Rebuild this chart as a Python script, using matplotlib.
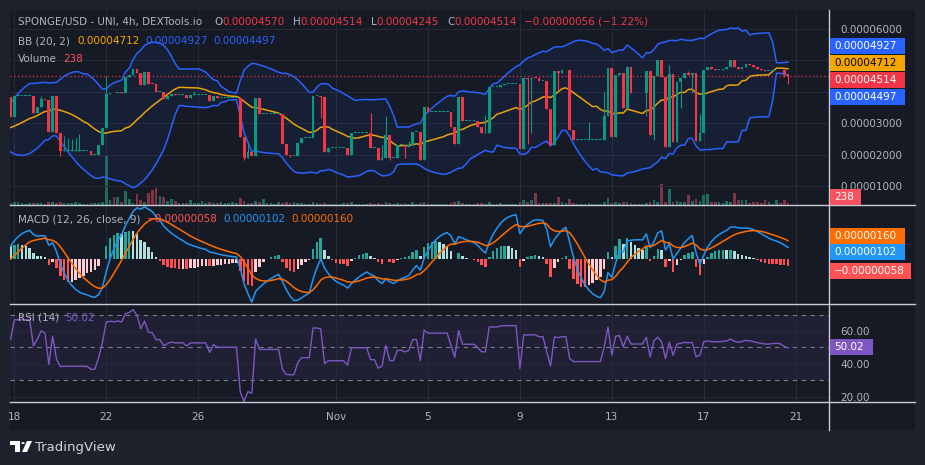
import numpy as np
import pandas as pd
import matplotlib
matplotlib.use("Agg")
import matplotlib.pyplot as plt
from matplotlib.patches import Rectangle, Polygon, Circle
from matplotlib.lines import Line2D

# ---------------- data (prices in units of 1e-5 USD) ----------------
UNIT = 1e-5
start_time = "2023-10-17 20:00"

warmup_close = [3.3, 3.3, 3.3, 3.2, 3.2, 3.3, 3.3, 3.2, 3.2, 3.2,
                3.1, 3.1, 3.2, 3.2, 3.2, 3.2, 3.2, 3.1, 3.1, 3.1,
                3.0, 2.9, 2.8, 2.7, 2.6, 2.6, 2.5, 2.5, 2.4, 2.5,
                2.6, 2.6, 2.7, 2.8, 2.9, 3.0, 3.2, 3.4, 3.6, 3.84]

close = [
    3.21, 3.87, 3.87, 3.87, 3.87, 3.87, 3.34, 3.53, 3.79, 3.74,
    2.74, 3.87, 2.68, 2.13, 2.14, 2.14, 2.14, 2.14, 2.14, 2.14,
    2.14, 2.00, 2.00, 2.32, 2.84, 3.92, 3.97, 3.95, 4.00, 3.97,
    4.47, 4.55, 4.74, 4.60, 4.21, 4.63, 4.26, 4.24, 4.00, 4.00,
    3.79, 3.87, 3.92, 3.90, 3.90, 3.90, 3.82, 3.90, 3.90, 3.90,
    3.90, 3.90, 3.72, 3.87, 3.82, 3.82, 3.82, 3.82, 3.82, 3.82,
    2.58, 1.90, 2.10, 1.98, 3.82, 3.30, 3.30, 3.30, 3.30, 3.30,
    3.30, 2.34, 2.00, 1.98, 1.98, 2.37, 2.55, 2.55, 2.55, 3.87,
    3.87, 3.84, 2.10, 2.23, 2.23, 2.23, 2.23, 2.23, 2.00, 2.70,
    2.70, 2.70, 2.70, 2.70, 2.23, 2.23, 1.84, 1.90, 2.63, 1.90,
    1.90, 2.32, 2.32, 2.25, 2.30, 2.74, 2.74, 1.84, 3.53, 3.37,
    3.37, 3.37, 3.37, 3.37, 3.37, 2.90, 2.34, 3.85, 3.07, 3.07,
    3.07, 3.07, 2.90, 2.68, 2.68, 4.16, 4.16, 4.16, 4.23, 4.25,
    4.25, 4.25, 4.25, 2.19, 4.44, 4.42, 4.45, 4.44, 4.34, 4.34,
    3.47, 2.32, 4.65, 4.60, 4.68, 4.68, 2.79, 2.47, 2.47, 2.47,
    2.47, 2.47, 2.47, 2.47, 2.47, 3.22, 4.75, 2.58, 4.54, 4.60,
    3.50, 4.78, 3.95, 3.95, 3.95, 3.95, 4.65, 2.63, 4.50, 5.00,
    4.47, 2.24, 4.56, 2.40, 4.30, 4.45, 4.60, 4.55, 4.60, 2.45,
    2.68, 4.68, 4.79, 4.72, 4.70, 4.70, 4.74, 4.80, 5.00, 4.80,
    4.72, 4.80, 4.88, 4.86, 4.80, 4.74, 4.70, 4.66, 4.66, 4.68,
    4.70, 4.68, 4.57, 4.514,
]

wick_high = {8: 3.87, 14: 2.60, 15: 2.55, 16: 2.50, 17: 2.55, 18: 2.65, 25: 4.50,
             48: 4.02, 62: 2.40, 94: 3.34, 97: 2.32, 98: 3.23, 104: 2.45,
             124: 3.27, 151: 3.06, 155: 4.00, 172: 4.84, 177: 4.65, 180: 3.30}
wick_low = {13: 1.97, 61: 1.85, 73: 1.92, 81: 3.16, 99: 1.84, 103: 1.90,
            135: 2.34, 136: 2.70, 143: 4.05, 166: 3.24, 168: 2.47, 175: 3.50,
            178: 3.95, 202: 4.47, 203: 4.245}

volume = [
    240, 360, 360, 240, 120, 240, 240, 240, 240, 120,
    360, 360, 240, 360, 240, 240, 240, 360, 240, 120,
    120, 240, 240, 240, 360, 5880, 600, 960, 960, 360,
    1680, 720, 240, 1320, 600, 360, 1440, 1800, 2040, 1080,
    960, 480, 720, 480, 240, 240, 240, 600, 240, 240,
    480, 240, 360, 240, 240, 360, 240, 240, 360, 240,
    840, 480, 240, 240, 480, 360, 720, 240, 240, 120,
    360, 240, 360, 240, 360, 240, 240, 120, 120, 360,
    240, 120, 240, 120, 120, 120, 120, 240, 240, 360,
    120, 120, 120, 120, 240, 120, 240, 120, 360, 240,
    120, 240, 120, 240, 120, 360, 120, 240, 360, 240,
    120, 120, 120, 120, 120, 240, 360, 480, 240, 120,
    120, 120, 240, 240, 120, 360, 120, 120, 240, 120,
    120, 120, 120, 360, 600, 360, 600, 1440, 240, 240,
    240, 240, 240, 960, 360, 240, 720, 240, 120, 120,
    120, 240, 120, 120, 120, 360, 840, 240, 360, 240,
    360, 360, 240, 120, 120, 120, 240, 360, 600, 360,
    2520, 360, 1920, 360, 480, 360, 360, 1200, 480, 720,
    480, 1200, 1320, 360, 360, 360, 240, 480, 360, 1440,
    600, 600, 600, 240, 360, 360, 240, 600, 360, 120,
    600, 240, 600, 238,
]

# legend / label values as shown on the chart
bb_basis_val, bb_upper_val, bb_lower_val = 4.712, 4.927, 4.497
macd_hist_val, macd_val, signal_val = -0.058, 0.102, 0.160
rsi_val = 50.02
last_volume = 238
change_pct = -1.22

tick_dates = ["2023-10-18", "2023-10-22", "2023-10-26", "2023-11-01", "2023-11-05",
              "2023-11-09", "2023-11-13", "2023-11-17", "2023-11-21"]
tick_labels = ["18", "22", "26", "Nov", "5", "9", "13", "17", "21"]
price_grid = [1, 2, 3, 4, 5, 6]
price_ticks = [1, 2, 3, 6]
rsi_ticks = [20, 40, 60]

# ---------------- derived series ----------------
n = len(close)
C = np.array(close)
O = np.concatenate([[warmup_close[-1]], C[:-1]])
Hh = np.maximum(O, C)
Ll = np.minimum(O, C)
for k, v in wick_high.items():
    Hh[k] = max(Hh[k], v)
for k, v in wick_low.items():
    Ll[k] = min(Ll[k], v)
V = np.array(volume, dtype=float)
x = np.arange(n)

full = pd.Series(warmup_close + close)
nw = len(warmup_close)
bb_mid = full.rolling(20).mean()
bb_sd = full.rolling(20).std(ddof=0)
bb_up = (bb_mid + 2 * bb_sd).values[nw:]
bb_lo = (bb_mid - 2 * bb_sd).values[nw:]
bb_mid = bb_mid.values[nw:]
ema12 = full.ewm(span=12, adjust=False).mean()
ema26 = full.ewm(span=26, adjust=False).mean()
macd = ema12 - ema26
sig = macd.ewm(span=9, adjust=False).mean()
hist = (macd - sig)
macd_v = macd.values[nw:]
sig_v = sig.values[nw:]
hist_all = hist.values
hist_v = hist_all[nw:]
hist_prev = hist_all[nw - 1:-1]
d = full.diff()
up = d.clip(lower=0).ewm(alpha=1 / 14, adjust=False).mean()
dn = (-d.clip(upper=0)).ewm(alpha=1 / 14, adjust=False).mean()
rsi = (100 - 100 / (1 + up / dn.replace(0, np.nan))).fillna(100).values[nw:]

t0 = pd.Timestamp(start_time)
tick_pos = [(pd.Timestamp(t) - t0) / pd.Timedelta(hours=4) for t in tick_dates]

# ---------------- styling ----------------
W, H = 925, 465
BG = "#161a25"
FRAME = "#1e222d"
GRID = "#262a36"
TXT = "#b2b5be"
UPC = "#089981"
DNC = "#f23645"
SEP = "#c9ccd4"
FS = 7.5


def fx(px):
    return px / W


def fy(py):
    return 1 - py / H


fig = plt.figure(figsize=(W / 100, H / 100), dpi=100)
fig.patch.set_facecolor(FRAME)
fig.patches.append(Rectangle((fx(10), fy(430)), fx(915) - fx(10), fy(10) - fy(430),
                             transform=fig.transFigure, facecolor=BG, edgecolor="none", zorder=-10))

L, R = 10, 829
xlim = (-0.13, 213.7)


def make_ax(top, bottom):
    ax = fig.add_axes([fx(L), fy(bottom), fx(R) - fx(L), (bottom - top) / H])
    ax.set_facecolor("none")
    ax.set_xlim(*xlim)
    for s in ax.spines.values():
        s.set_visible(False)
    ax.set_xticks(tick_pos)
    ax.tick_params(axis="x", length=0, labelbottom=False)
    ax.grid(True, axis="x", color=GRID, lw=0.8)
    return ax


# ---- price pane ----
ax_v = make_ax(10, 205)
ax_v.set_ylim(0, V.max() * 4.0)
ax_v.set_yticks([])
vcol = np.where(C >= O, "#1f6a5f", "#7e3443")
ax_v.bar(x, V, width=0.7, color=vcol, zorder=2)

ax_p = make_ax(10, 205)
ax_p.set_ylim(0.41, 6.6)
ax_p.set_xticks([])
ax_p.set_yticks(price_ticks)
ax_p.yaxis.tick_right()
ax_p.set_yticklabels([f"{v * UNIT:.8f}" for v in price_ticks])
ax_p.tick_params(axis="y", length=0, labelsize=FS, labelcolor=TXT, pad=8)
for g in price_grid:
    ax_p.axhline(g, color=GRID, lw=0.8, zorder=0)
ax_p.fill_between(x, bb_lo, bb_up, color="#2962ff", alpha=0.07, lw=0, zorder=1)
ax_p.plot(x, bb_up, color="#2962ff", lw=1.1, zorder=3)
ax_p.plot(x, bb_lo, color="#2962ff", lw=1.1, zorder=3)
ax_p.plot(x, bb_mid, color="#e8a20c", lw=1.1, zorder=3)
ccol = np.where(C >= O, UPC, DNC)
ax_p.vlines(x, Ll, Hh, colors=ccol, lw=0.8, zorder=4)
ax_p.bar(x, np.maximum(np.abs(C - O), 0.03), bottom=np.minimum(O, C), width=0.72,
         color=ccol, zorder=5)
ax_p.axhline(C[-1], color=DNC, lw=0.9, ls=(0, (1, 2)), zorder=2)

# ---- MACD pane ----
ax_m = make_ax(205, 304)
lo = min(macd_v.min(), sig_v.min(), hist_v.min())
hi = max(macd_v.max(), sig_v.max(), hist_v.max())
pad = (hi - lo) * 0.02
ax_m.set_ylim(lo - pad, hi + pad)
ax_m.set_yticks([])
hcol = []
for h, hp in zip(hist_v, hist_prev):
    if h >= 0:
        hcol.append("#26a69a" if h > hp else "#b2dfdb")
    else:
        hcol.append("#ff5252" if h < hp else "#ffcdd2")
ax_m.bar(x, hist_v, width=0.65, color=hcol, zorder=2)
ax_m.plot(x, macd_v, color="#2196f3", lw=1.1, zorder=3)
ax_m.plot(x, sig_v, color="#ff6d00", lw=1.1, zorder=3)

# ---- RSI pane ----
ax_r = make_ax(304, 402)
ax_r.set_ylim(16.7, 76.4)
ax_r.set_yticks(rsi_ticks)
ax_r.yaxis.tick_right()
ax_r.set_yticklabels([f"{v:.2f}" for v in rsi_ticks])
ax_r.tick_params(axis="y", length=0, labelsize=FS, labelcolor=TXT, pad=8)
ax_r.grid(True, axis="y", color=GRID, lw=0.8)
ax_r.axhspan(30, 70, color="#7e57c2", alpha=0.1, lw=0, zorder=1)
for lvl in (70, 50, 30):
    ax_r.axhline(lvl, color="#787b86", lw=0.8, ls=(0, (4, 4)), zorder=2)
ax_r.plot(x, rsi, color="#7e57c2", lw=1.0, zorder=3)
ax_r.tick_params(axis="x", labelbottom=True, labelsize=FS, labelcolor=TXT, pad=7)
ax_r.set_xticklabels(tick_labels)

# ---- separators ----
for yy in (205, 304, 402):
    fig.add_artist(Line2D([fx(10), fx(915)], [fy(yy), fy(yy)], color=SEP, lw=1.0,
                          transform=fig.transFigure))
fig.add_artist(Line2D([fx(829), fx(829)], [fy(10), fy(430)], color=SEP, lw=1.0,
                      transform=fig.transFigure))

# ---- legends ----
renderer = fig.canvas.get_renderer()


def seq_text(x_px, y_px, parts):
    xx = x_px
    for s, c, gap in parts:
        t = fig.text(fx(xx), fy(y_px), s, color=c, fontsize=FS, va="center", ha="left")
        xx += t.get_window_extent(renderer=renderer).width + gap


def p8(v):
    return f"{v * UNIT:.8f}".replace("-", "\u2212")


chg = C[-1] - O[-1]
seq_text(18, 22, [("SPONGE/USD - UNI, 4h, DEXTools.io", TXT, 12),
                  ("O", TXT, 0), (p8(O[-1]), DNC, 8),
                  ("H", TXT, 0), (p8(C[-1]), DNC, 8),
                  ("L", TXT, 0), (p8(Ll[-1]), DNC, 8),
                  ("C", TXT, 0), (p8(C[-1]), DNC, 7),
                  (f"{p8(chg)} ({change_pct:.2f}%)".replace("-", "\u2212"), DNC, 0)])
seq_text(18, 41, [("BB (20, 2)", TXT, 8), (p8(bb_basis_val), "#f7a600", 5),
                  (p8(bb_upper_val), "#2962ff", 6), (p8(bb_lower_val), "#2962ff", 0)])
seq_text(18, 59, [("Volume", TXT, 6), (str(last_volume), "#f7525f", 0)])
seq_text(18, 219, [("MACD (12, 26, close, 9)", TXT, 6), (p8(macd_hist_val), "#ff5252", 6),
                   (p8(macd_val), "#2196f3", 6), (p8(signal_val), "#ff6d00", 0)])
seq_text(18, 318, [("RSI (14)", TXT, 6), (f"{rsi_val:.2f}", "#7e57c2", 0)])


# ---- axis value boxes ----
def box(y_px, s, fc, tc="white", w=75):
    fig.patches.append(Rectangle((fx(829.5), fy(y_px + 8)), w / W, 16 / H,
                                 transform=fig.transFigure, facecolor=fc, edgecolor="none", zorder=5))
    fig.text(fx(834), fy(y_px), s, color=tc, fontsize=FS, va="center", ha="left", zorder=6)


def stack(centers, spacing=17):
    m = np.mean(centers)
    k = len(centers)
    return [m + (j - (k - 1) / 2) * spacing for j in range(k)]


def price_px(v):
    return 205 - (v - 0.41) / (6.6 - 0.41) * 195


pl = [(bb_upper_val, "#2962ff", "white"), (bb_basis_val, "#f7a600", "black"),
      (C[-1], DNC, "white"), (bb_lower_val, "#2962ff", "white")]
ys = stack([price_px(v) for v, _, _ in pl])
for (v, fc, tc), yy in zip(pl, ys):
    box(yy, p8(v), fc, tc)
box(197, str(last_volume), "#f7525f", w=31)

mlo, mhi = ax_m.get_ylim()


def macd_px(v):
    return 304 - (v - mlo) / (mhi - mlo) * 99


ml = [(signal_val, "#ff6d00"), (macd_val, "#2196f3")]
ys = stack([macd_px(v) for v, _ in ml], 16)
for (v, fc), yy in zip(ml, ys):
    box(yy, p8(v), fc)
box(max(ys[-1] + 19, macd_px(macd_hist_val)), p8(macd_hist_val), "#ff5252", w=81)

box(304 + (76.4 - rsi_val) / (76.4 - 16.7) * 98, f"{rsi_val:.2f}", "#7e57c2", w=43)

# ---- TradingView logo ----
fig.patches.append(Polygon([(fx(10), fy(441)), (fx(20), fy(441)), (fx(20), fy(452)),
                            (fx(15), fy(452)), (fx(15), fy(445)), (fx(10), fy(445))],
                           closed=True, transform=fig.transFigure, facecolor="white"))
fig.patches.append(Circle((fx(23), fy(443)), 1.8 / W, transform=fig.transFigure, facecolor="white"))
fig.patches.append(Polygon([(fx(27), fy(441)), (fx(32), fy(441)), (fx(27), fy(452)), (fx(22), fy(452))],
                           closed=True, transform=fig.transFigure, facecolor="white"))
fig.text(fx(35), fy(447), "TradingView", color="#d1d4dc", fontsize=9.5, va="center", ha="left")

fig.savefig("out.png", dpi=100, facecolor=fig.get_facecolor())
